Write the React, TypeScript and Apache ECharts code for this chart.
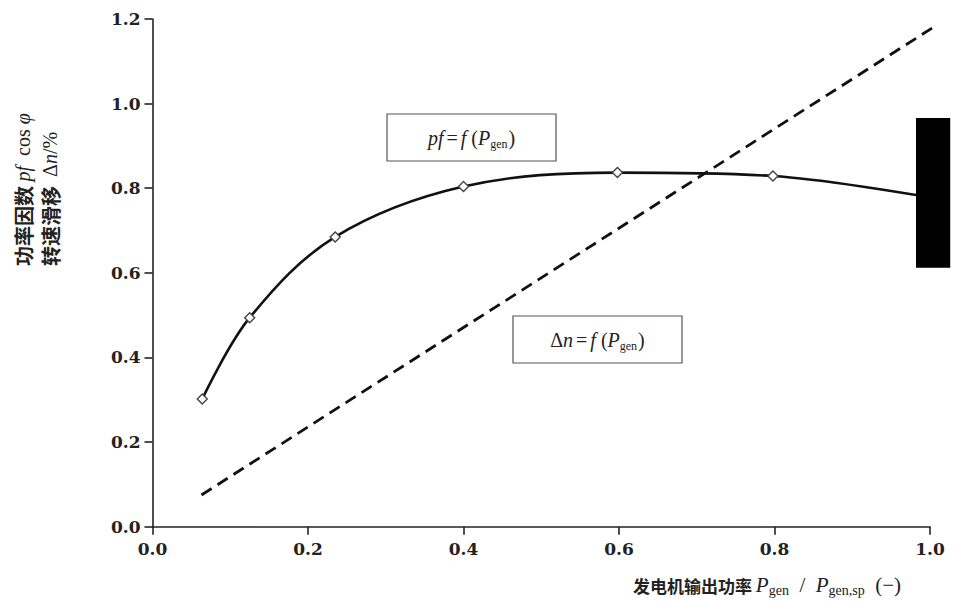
import React, { useEffect, useRef } from "react";
import * as echarts from "echarts";

// power factor curve pf = f(P_gen)
const pfX = [0.064, 0.125, 0.235, 0.4, 0.598, 0.798, 0.982];
const pfY = [0.302, 0.494, 0.685, 0.804, 0.837, 0.829, 0.784];
const pfMarked = [true, true, true, true, true, true, false];
// slip line Δn = f(P_gen)
const slipX = [0.063, 1.009];
const slipY = [0.075, 1.186];
// range bar at rated power: [xStart, xEnd, yLow, yHigh]
const rangeBar = [0.982, 1.026, 0.612, 0.966];
// axes ticks
const xTicks = { min: 0, max: 1, interval: 0.2 };
const yTicks = { min: 0, max: 1.2, interval: 0.2 };

const SERIF = "'DejaVu Serif', 'Liberation Serif', serif";
const LSERIF = "'Liberation Serif', serif";
const CJK = "'Noto Sans CJK SC', sans-serif";

export default function App() {
  const ref = useRef<HTMLDivElement>(null);
  useEffect(() => {
    if (!ref.current) return;
    const chart = echarts.init(ref.current, null, { renderer: "svg" });
    const axisCommon = {
      axisLine: { show: true, onZero: false, lineStyle: { color: "#222", width: 1.6 } },
      axisTick: { show: true, inside: false, length: 8, lineStyle: { color: "#222", width: 1.6 } },
      splitLine: { show: false },
    };
    const labelFmt = (v: number) => v.toFixed(1);
    const itStyle = { fontFamily: LSERIF, fontStyle: "italic", fontSize: 20, lineHeight: 24 };
    const nmStyle = { fontFamily: LSERIF, fontSize: 20, lineHeight: 24 };
    const eqStyle = { fontFamily: LSERIF, fontSize: 20, lineHeight: 24, padding: [0, 3, 0, 3] };
    const subStyle = { fontFamily: LSERIF, fontSize: 12, verticalAlign: "bottom", lineHeight: 24, padding: [0, 1, 0, 0] };
    chart.setOption({
      animation: false,
      backgroundColor: "#fff",
      grid: { left: 152.5, right: 24, top: 19, bottom: 74.3, containLabel: false },
      xAxis: {
        type: "value",
        ...xTicks,
        ...axisCommon,
        axisLabel: { margin: 14, color: "#222", fontFamily: SERIF, fontWeight: "bold", fontSize: 17, formatter: labelFmt },
      },
      yAxis: {
        type: "value",
        ...yTicks,
        ...axisCommon,
        axisLabel: { margin: 12, color: "#222", fontFamily: SERIF, fontWeight: "bold", fontSize: 17, formatter: labelFmt },
      },
      series: [
        {
          type: "line",
          data: pfX.map((x, i) => ({
            value: [x, pfY[i]],
            symbol: pfMarked[i] ? "diamond" : "none",
          })),
          smooth: 0.35,
          symbolSize: 10,
          showAllSymbol: true,
          lineStyle: { color: "#111", width: 2.6 },
          itemStyle: { color: "#fff", borderColor: "#444", borderWidth: 1.4 },
          z: 3,
        },
        {
          type: "line",
          data: slipX.map((x, i) => [x, slipY[i]]),
          symbol: "none",
          clip: false,
          lineStyle: { color: "#111", width: 2.8, type: [12, 7] },
          z: 2,
        },
        {
          type: "custom",
          clip: false,
          data: [rangeBar],
          encode: { x: [0, 1], y: [2, 3] },
          renderItem: (params: any, api: any) => {
            const p0 = api.coord([api.value(0), api.value(3)]);
            const p1 = api.coord([api.value(1), api.value(2)]);
            return {
              type: "rect",
              shape: { x: p0[0], y: p0[1], width: p1[0] - p0[0], height: p1[1] - p0[1] },
              style: { fill: "#000" },
            };
          },
          z: 4,
        },
      ],
      graphic: [
        // annotation box 1
        {
          type: "rect",
          shape: { x: 387, y: 114, width: 169, height: 47 },
          style: { fill: "#fff", stroke: "#555", lineWidth: 1.2 },
          z: 10,
        },
        {
          type: "text",
          x: 471.5,
          y: 138,
          style: {
            text: "{i|pf}{e|=}{i|f}{n| (}{i|P}{s|gen}{n|)}",
            align: "center",
            verticalAlign: "middle",
            fill: "#222",
            rich: { i: itStyle, n: nmStyle, s: subStyle, e: eqStyle },
          },
          z: 11,
        },
        // annotation box 2
        {
          type: "rect",
          shape: { x: 513, y: 316, width: 169, height: 47 },
          style: { fill: "#fff", stroke: "#555", lineWidth: 1.2 },
          z: 10,
        },
        {
          type: "text",
          x: 597.5,
          y: 340,
          style: {
            text: "{n|Δ}{i|n}{e|=}{i|f}{n| (}{i|P}{s|gen}{n|)}",
            align: "center",
            verticalAlign: "middle",
            fill: "#222",
            rich: { i: itStyle, n: nmStyle, s: subStyle, e: eqStyle },
          },
          z: 11,
        },
        // y axis name (two rotated lines)
        {
          type: "text",
          x: 23,
          y: 266,
          rotation: Math.PI / 2,
          style: {
            text: "{c|功率因数 }{i|pf}{n|  cos }{i|φ}",
            align: "left",
            verticalAlign: "middle",
            fill: "#222",
            rich: {
              c: { fontFamily: CJK, fontSize: 20, fontWeight: "bold" },
              i: { fontFamily: LSERIF, fontStyle: "italic", fontSize: 20 },
              n: { fontFamily: LSERIF, fontSize: 20 },
            },
          },
        },
        {
          type: "text",
          x: 50,
          y: 266,
          rotation: Math.PI / 2,
          style: {
            text: "{c|转速滑移  }{n|Δ}{i|n}{n|/%}",
            align: "left",
            verticalAlign: "middle",
            fill: "#222",
            rich: {
              c: { fontFamily: CJK, fontSize: 20, fontWeight: "bold" },
              i: { fontFamily: LSERIF, fontStyle: "italic", fontSize: 20 },
              n: { fontFamily: LSERIF, fontSize: 20 },
            },
          },
        },
        // x axis name
        {
          type: "text",
          x: 633,
          y: 585,
          style: {
            text: "{c|发电机输出功率 }{i|P}{s|gen}{n|  /  }{i|P}{s|gen,sp}{n|  (−)}",
            align: "left",
            verticalAlign: "middle",
            fill: "#222",
            rich: {
              c: { fontFamily: CJK, fontSize: 17, fontWeight: "bold", lineHeight: 24 },
              i: { fontFamily: LSERIF, fontStyle: "italic", fontSize: 21, lineHeight: 24 },
              n: { fontFamily: LSERIF, fontSize: 21, lineHeight: 24 },
              s: { fontFamily: LSERIF, fontSize: 14, verticalAlign: "bottom", lineHeight: 24 },
            },
          },
        },
      ],
    });
    return () => chart.dispose();
  }, []);
  return (
    <div
      ref={ref}
      style={{ position: "fixed", left: 0, top: 0, width: 954, height: 601, background: "#fff" }}
    />
  );
}
